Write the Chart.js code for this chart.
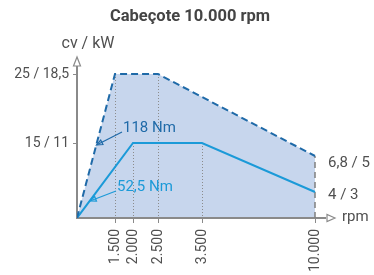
<!DOCTYPE html>
<html><head><meta charset="utf-8">
<script src="https://cdn.jsdelivr.net/npm/chart.js@4"></script>
<style>html,body{margin:0;padding:0;background:#fff}</style>
</head><body>
<canvas id="c" width="374" height="275"></canvas>
<script>
// ---- data (schematic, non-linear axes as in the source figure) ----
const chartTitle = 'Cabeçote 10.000 rpm';
const yAxisTitle = 'cv / kW';
const xAxisTitle = 'rpm';
const rpmLabels = ['1.500', '2.000', '2.500', '3.500', '10.000'];
const rpmPos = [38, 56, 81, 125, 238];           // schematic axis units
const powerLevelLabels = ['15 / 11', '25 / 18,5'];
const powerLevelPos = [75, 144];                 // schematic axis units
const maxPowerX = [0, 38, 81, 238];
const maxPowerY = [0, 144, 144, 62];
const ratedPowerX = [0, 56, 125, 238];
const ratedPowerY = [0, 75, 75, 26];
const endLabels = ['6,8 / 5', '4 / 3'];
const torqueLabels = ['118 Nm', '52,5 Nm'];
const torqueTips = [[19.5, 73], [13, 17]];
const torqueTextAt = [[46, 90], [40, 31]];

const FONT = "Roboto, 'Liberation Sans', sans-serif";
const GREY = '#8a8a8a';
const TXT = '#505050';
const DARK = '#1f6aa8';
const CYAN = '#1b9ad8';

function openArrow(ctx, x, y, angle, len, half, color, fill) {
  ctx.save();
  ctx.translate(x, y); ctx.rotate(angle);
  ctx.beginPath();
  ctx.moveTo(0, 0); ctx.lineTo(-len, -half); ctx.lineTo(-len, half); ctx.closePath();
  if (fill) { ctx.fillStyle = fill; ctx.fill(); }
  ctx.strokeStyle = color; ctx.lineWidth = 1.2; ctx.stroke();
  ctx.restore();
}

const decor = {
  id: 'decor',
  beforeDatasetsDraw(chart) {
    const {ctx, scales: {x, y}} = chart;
    ctx.save();
    ctx.strokeStyle = '#8c8c8c'; ctx.lineWidth = 1; ctx.setLineDash([1, 2]);
    const guides = [[maxPowerX[1], maxPowerY[1]], [maxPowerX[2], maxPowerY[2]],
                    [ratedPowerX[1], ratedPowerY[1]], [ratedPowerX[2], ratedPowerY[2]]];
    guides.forEach(([gx, gy]) => {
      const px = Math.round(x.getPixelForValue(gx)) + 0.5;
      ctx.beginPath(); ctx.moveTo(px, y.getPixelForValue(gy)); ctx.lineTo(px, y.getPixelForValue(0)); ctx.stroke();
    });
    ctx.restore();
  },
  afterDraw(chart) {
    const {ctx, chartArea: a, scales: {x, y}} = chart;
    ctx.save();
    // title
    ctx.fillStyle = '#444';
    ctx.font = `bold 16.5px ${FONT}`;
    ctx.textAlign = 'center'; ctx.textBaseline = 'middle';
    ctx.fillText(chartTitle, 190, 17);
    // axis arrows
    const x0 = x.getPixelForValue(0), y0 = y.getPixelForValue(0);
    ctx.fillStyle = '#fff';
    ctx.fillRect(x0 - 4, a.top - 1, 8, 10);
    ctx.fillRect(a.right - 9, y0 - 4, 10, 8);
    openArrow(ctx, x0, a.top + 1, -Math.PI / 2, 9, 3.5, GREY, '#fff');
    openArrow(ctx, a.right, y0, 0, 8, 3.5, GREY, '#fff');
    // axis titles
    ctx.fillStyle = TXT;
    ctx.font = `16px ${FONT}`;
    ctx.textBaseline = 'middle';
    ctx.textAlign = 'center';
    ctx.fillText(yAxisTitle, x0 + 11, a.top - 12);
    ctx.font = `15px ${FONT}`;
    ctx.textAlign = 'left';
    ctx.fillText(xAxisTitle, a.right + 7, y0 - 1);
    // end values
    const xe = x.getPixelForValue(maxPowerX[3]) + 13;
    ctx.fillText(endLabels[0], xe, y.getPixelForValue(maxPowerY[3]) + 7);
    ctx.fillText(endLabels[1], xe, y.getPixelForValue(ratedPowerY[3]) + 3);
    // torque annotations
    const cols = [DARK, CYAN];
    torqueLabels.forEach((t, i) => {
      const tx = x.getPixelForValue(torqueTextAt[i][0]);
      const ty = y.getPixelForValue(torqueTextAt[i][1]);
      const px = x.getPixelForValue(torqueTips[i][0]);
      const py = y.getPixelForValue(torqueTips[i][1]);
      ctx.fillStyle = cols[i];
      ctx.fillText(t, tx, ty);
      const sx = tx - 1, sy = ty + 4;
      ctx.strokeStyle = cols[i]; ctx.lineWidth = 1.2;
      ctx.beginPath(); ctx.moveTo(sx, sy); ctx.lineTo(px, py); ctx.stroke();
      openArrow(ctx, px, py, Math.atan2(py - sy, px - sx), 6, 2.5, cols[i], null);
    });
    ctx.restore();
  }
};

new Chart(document.getElementById('c'), {
  type: 'line',
  data: {
    datasets: [
      {
        data: maxPowerX.map((v, i) => ({x: v, y: maxPowerY[i]})),
        borderColor: DARK, borderWidth: 2, borderDash: [7, 4],
        fill: 'origin', backgroundColor: '#c7d6ed',
        pointRadius: 0, tension: 0
      },
      {
        data: ratedPowerX.map((v, i) => ({x: v, y: ratedPowerY[i]})),
        borderColor: CYAN, borderWidth: 2, fill: false,
        pointRadius: 0, tension: 0
      },
      {
        data: [{x: maxPowerX[3], y: 0}, {x: maxPowerX[3], y: maxPowerY[3]}],
        borderColor: '#808080', borderWidth: 1.5, borderDash: [6, 4],
        fill: false, pointRadius: 0
      }
    ]
  },
  options: {
    responsive: false,
    animation: false,
    layout: {padding: {left: 0, right: 39, top: 56, bottom: 0}},
    plugins: {
      legend: {display: false},
      tooltip: {enabled: false},
      filler: {drawTime: 'beforeDraw'},
      title: {display: false}
    },
    scales: {
      x: {
        type: 'linear', min: 0, max: 258,
        afterBuildTicks: s => { s.ticks = rpmPos.map(v => ({value: v})); },
        afterFit: s => { s.height = 57; },
        ticks: {
          callback: (v, i) => rpmLabels[i],
          minRotation: 90, maxRotation: 90, autoSkip: false,
          color: TXT, font: {family: FONT, size: 14}, padding: 6
        },
        grid: {drawOnChartArea: false, drawTicks: true, tickLength: 5, color: GREY, lineWidth: 1},
        border: {display: true, color: GREY, width: 2}
      },
      y: {
        type: 'linear', min: 0, max: 162,
        afterBuildTicks: s => { s.ticks = powerLevelPos.map(v => ({value: v})); },
        afterFit: s => { s.width = 77; },
        ticks: {
          callback: (v, i) => powerLevelLabels[i],
          color: TXT, font: {family: FONT, size: 14}, padding: 4
        },
        grid: {drawOnChartArea: false, drawTicks: true, tickLength: 4, color: GREY, lineWidth: 1},
        border: {display: true, color: GREY, width: 2}
      }
    }
  },
  plugins: [decor]
});
</script>
</body></html>
